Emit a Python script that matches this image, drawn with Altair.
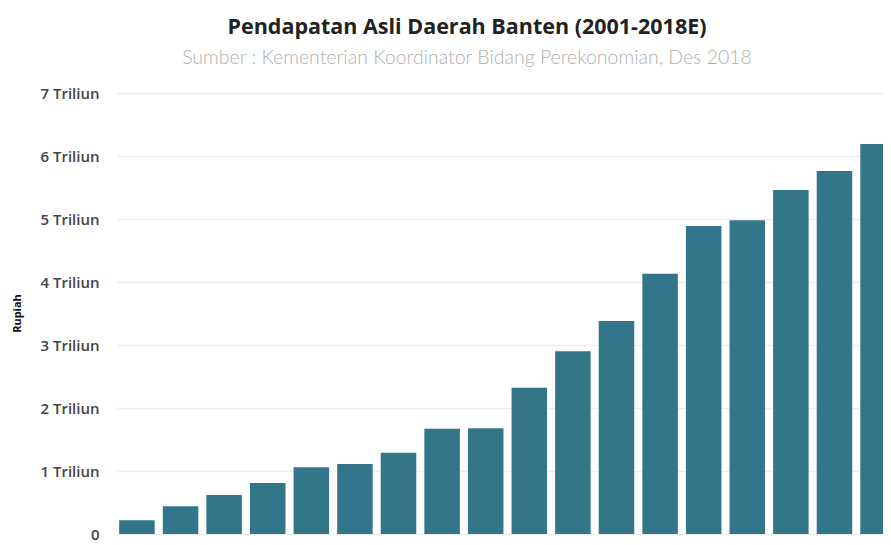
import altair as alt
import pandas as pd

years = [str(y) for y in range(2001, 2018)] + ["2018E"]
values = [0.22, 0.44, 0.62, 0.81, 1.06, 1.11, 1.29, 1.67, 1.68, 2.32,
          2.90, 3.38, 4.13, 4.89, 4.98, 5.46, 5.76, 6.19]
y_ticks = [0, 1, 2, 3, 4, 5, 6, 7]

df = pd.DataFrame({"Tahun": years, "Rupiah": values})

label_expr = "datum.value == 0 ? '0' : datum.value + ' Triliun'"

chart = alt.Chart(df).mark_bar(color="#347689", clip=True).encode(
    x=alt.X("Tahun:N", sort=years, title=None,
            scale=alt.Scale(paddingInner=0.185, paddingOuter=0.05, range=[0, 781]),
            axis=None),
    y=alt.Y("Rupiah:Q", title="Rupiah",
            scale=alt.Scale(domain=[0, 7], nice=False),
            axis=alt.Axis(values=y_ticks, labelExpr=label_expr, domain=False, ticks=False,
                          labelFont="Open Sans", labelFontSize=15, labelFontWeight=600,
                          labelColor="#444444",
                          labelPadding=18, gridColor="#ededed", gridWidth=1.5,
                          titleFont="Open Sans", titleFontSize=11, titleFontWeight="bold",
                          titleColor="#111111", titleX=-100, titleY=220, titleAngle=-90,
                          titleAlign="center", titleBaseline="middle")),
).properties(
    width=766,
    height=441,
    autosize=alt.AutoSizeParams(type="none"),
    padding={"left": 109, "top": 85, "right": 0, "bottom": 12},
    title=alt.TitleParams(
        text="Pendapatan Asli Daerah Banten (2001-2018E)",
        subtitle="Sumber : Kementerian Koordinator Bidang Perekonomian, Des 2018",
        anchor="middle", frame="group", dx=-33,
        font="Open Sans", fontSize=21.5, fontWeight="bold", color="#222222",
        subtitleFont="Lato", subtitleFontSize=19.5, subtitleFontWeight=300,
        subtitleColor="#b0b0b0", subtitlePadding=10, offset=19,
    ),
).configure_view(stroke=None)

chart.save("out.html", embed_options={"renderer": "svg", "actions": False})
